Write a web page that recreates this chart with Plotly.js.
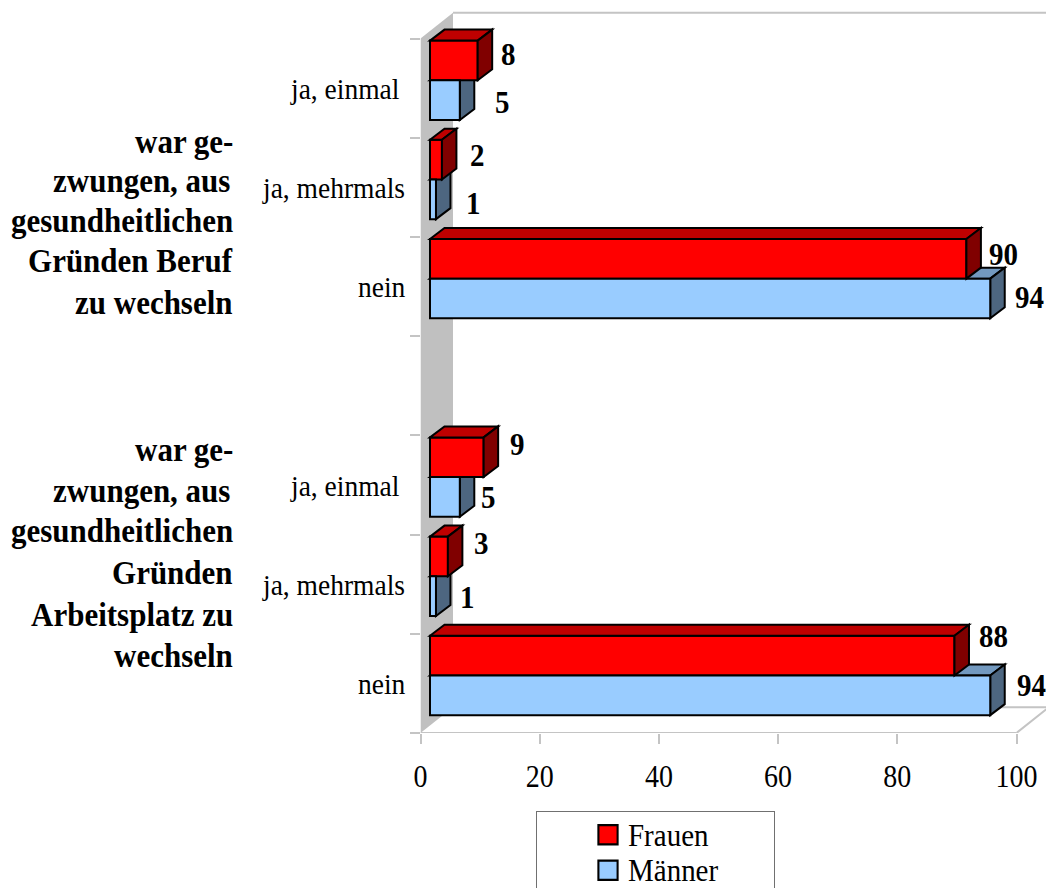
<!DOCTYPE html>
<html>
<head>
<meta charset="utf-8">
<script src="https://cdn.plot.ly/plotly-3.0.1.min.js"></script>
<style>
  html, body { margin: 0; padding: 0; background: #fff; overflow: hidden; }
  #chart { width: 1046px; height: 888px; }
  /* larger legend swatches, moved next to their labels */
  .legendpoints path { transform: translate(71px, 0) scale(1.6); stroke-width: 1.3px !important; }
  .legendtext { font-size: 29px !important; }
  /* the legend frame is wider than its entries and runs past the bottom of the page */
  .legend .bg { width: 238px !important; height: 110px !important; }
</style>
</head>
<body>
<div id="chart"></div>
<script>
// Survey answers, listed from the top row of the chart to the bottom; the empty row separates the two questions.
const categories = ['ja, einmal', 'ja, mehrmals', 'nein', '', 'ja, einmal', 'ja, mehrmals', 'nein'];
const frauen = [8, 2, 90, null, 9, 3, 88];
const maenner = [5, 1, 94, null, 5, 1, 94];
const xTicks = [0, 20, 40, 60, 80, 100];
const questionOne = ['war ge-', 'zwungen, aus', 'gesundheitlichen', 'Gründen Beruf', 'zu wechseln'];
const questionTwo = ['war ge-', 'zwungen, aus', 'gesundheitlichen', 'Gründen', 'Arbeitsplatz zu', 'wechseln'];

// Page geometry in pixels
const W = 1046, H = 888;
const X0 = 420.5, PX_PER_X = 5.96;
const FLOOR = 733, PX_PER_ROW = 99.2;
const toRow = i => categories.length - 1 - i;
const xMax = (W - X0) / PX_PER_X;
const yMin = -0.5, yMax = yMin + FLOOR / PX_PER_ROW;

// Depth of the box and of the bars, in axis units
const WALL_DX = 32.5 / PX_PER_X, WALL_DY = 25.8 / PX_PER_ROW;
const BAR_DX = 14.5 / PX_PER_X, BAR_DY = 11 / PX_PER_ROW;
const BAR_BASE = 9.5 / PX_PER_X, BAR_H = 0.4, SPLIT = 0.08;

const COL = {
  frauen: { front: '#ff0000', top: '#bf0000', side: '#800000' },
  maenner: { front: '#99ccff', top: '#7399bf', side: '#4d6680' }
};
const GREY = '#c4c4c4';
const SERIF = '"Liberation Serif", "Times New Roman", serif';
const TEXT_STRETCH = 1.1;

const poly = pts => 'M' + pts.map(p => p[0] + ' ' + p[1]).join(' L') + ' Z';
const shape = (pts, fill, layer, line) => ({
  type: 'path', xref: 'x', yref: 'y', layer, path: poly(pts),
  fillcolor: fill, line: line || { color: '#000', width: 2 }
});

// Top and side faces of a bar, extruded from its front face
function faces(values, yLow, cols, layer) {
  const out = [];
  values.forEach((v, i) => {
    if (v === null) return;
    const r = toRow(i), x0 = BAR_BASE, x1 = BAR_BASE + v;
    const y0 = r + yLow, y1 = y0 + BAR_H;
    out.push(shape([[x0, y1], [x0 + BAR_DX, y1 + BAR_DY], [x1 + BAR_DX, y1 + BAR_DY], [x1, y1]], cols.top, layer));
    out.push(shape([[x1, y1], [x1 + BAR_DX, y1 + BAR_DY], [x1 + BAR_DX, y0 + BAR_DY], [x1, y0]], cols.side, layer));
  });
  return out;
}

const boxLine = { color: GREY, width: 2 };
const rowTop = categories.length - 0.5;
const clear = 'rgba(0,0,0,0)';
const box = [
  shape([[0, yMin], [WALL_DX, yMin + WALL_DY], [WALL_DX, rowTop + WALL_DY], [0, rowTop]], '#c0c0c0', 'below', { width: 0 }),
  shape([[WALL_DX, rowTop + WALL_DY], [xMax + 1, rowTop + WALL_DY]], clear, 'below', boxLine),
  shape([[WALL_DX, yMin + WALL_DY], [xMax + 1, yMin + WALL_DY]], clear, 'below', boxLine),
  shape([[0, yMin], [100, yMin]], clear, 'below', boxLine),
  shape([[100, yMin], [100 + WALL_DX, yMin + WALL_DY]], clear, 'below', boxLine)
];

const shapes = box
  .concat(faces(maenner, -SPLIT * 4, COL.maenner, 'below'))
  .concat(faces(frauen, SPLIT, COL.frauen, 'above'));

const rows = categories.map((_, i) => toRow(i));
const barTrace = (name, values, offset, color) => ({
  type: 'bar', orientation: 'h', name,
  x: values, y: rows, base: BAR_BASE, width: BAR_H, offset,
  marker: { color, line: { color: '#000', width: 2 } },
  hoverinfo: 'x+name'
});

const annotations = [];

// Row labels, right-aligned next to the wall
const labelRight = [400, 405, 406, 0, 400, 405, 406];
categories.forEach((c, i) => {
  if (!c) return;
  annotations.push({
    xref: 'paper', yref: 'y', x: (labelRight[i] + 2) / W, y: toRow(i), xanchor: 'right', yanchor: 'middle',
    showarrow: false, text: c, font: { family: SERIF, size: 27.5, color: '#000' }
  });
});

// Question captions, one annotation per line
const addCaption = (lines, centers, rights) => lines.forEach((t, i) => annotations.push({
  xref: 'paper', yref: 'paper', x: (rights[i] + 2) / W, y: 1 - centers[i] / H, xanchor: 'right', yanchor: 'middle',
  showarrow: false, text: t, font: { family: SERIF, size: 31, weight: 700, color: '#000' }
}));
addCaption(questionOne, [141, 181, 220, 261, 302], [233, 230, 233, 233, 233]);
addCaption(questionTwo, [449, 490, 530, 572, 614, 655], [233, 230, 233, 233, 233, 233]);

// Value labels, nudged in pixels off the end of each bar
const fShiftX = [31, 36, 37, 0, 34, 34, 39], fShiftY = [34, 32, 33, 0, 41, 41, 47];
const mShiftX = [43, 37.5, 39, 0, 29, 31.5, 41], mShiftY = [-14, -16, -10, 0, -12, -13, -2];
const addValues = (values, sx, sy) => values.forEach((v, i) => {
  if (v === null) return;
  annotations.push({
    xref: 'x', yref: 'y', x: BAR_BASE + v, y: toRow(i), xshift: sx[i], yshift: sy[i],
    xanchor: 'center', yanchor: 'middle', showarrow: false, text: String(v),
    font: { family: SERIF, size: 29, weight: 700, color: '#000' }
  });
});
addValues(frauen, fShiftX, fShiftY);
addValues(maenner, mShiftX, mShiftY);

const layout = {
  width: W, height: H,
  margin: { l: 0, r: 0, t: 0, b: 0, pad: 0, autoexpand: false },
  paper_bgcolor: '#fff', plot_bgcolor: 'rgba(0,0,0,0)',
  barmode: 'overlay', hovermode: 'closest',
  font: { family: SERIF, color: '#000' },
  xaxis: {
    domain: [X0 / W, 1], range: [0, xMax], tickmode: 'array', tickvals: xTicks,
    ticks: 'outside', ticklen: 10, tickwidth: 2, tickcolor: GREY,
    showgrid: false, zeroline: false, showline: false,
    tickfont: { family: SERIF, size: 28, color: '#000' }, ticklabelstandoff: 8
  },
  yaxis: {
    domain: [(H - FLOOR) / H, 1], range: [yMin, yMax], tickmode: 'array',
    tickvals: categories.map((_, i) => i - 0.5).concat(categories.length - 0.5),
    ticks: 'outside', ticklen: 10, tickwidth: 2, tickcolor: GREY, showticklabels: false,
    showgrid: false, zeroline: false, showline: false
  },
  legend: {
    x: 536 / W, y: 1 - 811 / H, xanchor: 'left', yanchor: 'top',
    bgcolor: '#fff', bordercolor: '#707070', borderwidth: 1,
    font: { family: SERIF, size: 25, color: '#000' },
    itemwidth: 81, traceorder: 'normal'
  },
  shapes, annotations
};

Plotly.newPlot('chart', [
  barTrace('Frauen', frauen, SPLIT, COL.frauen.front),
  barTrace('Männer', maenner, -SPLIT * 4, COL.maenner.front)
], layout, { displayModeBar: false }).then(gd => {
  // The serif face is set slightly tall: stretch each label about its own middle
  gd.querySelectorAll('.annotation-text, .xtick text, .legendtext').forEach(el => {
    const b = el.getBBox(), cy = b.y + b.height / 2;
    const t = el.getAttribute('transform') || '';
    el.setAttribute('transform', `${t} translate(0 ${cy}) scale(1 ${TEXT_STRETCH}) translate(0 ${-cy})`);
  });
});
</script>
</body>
</html>
